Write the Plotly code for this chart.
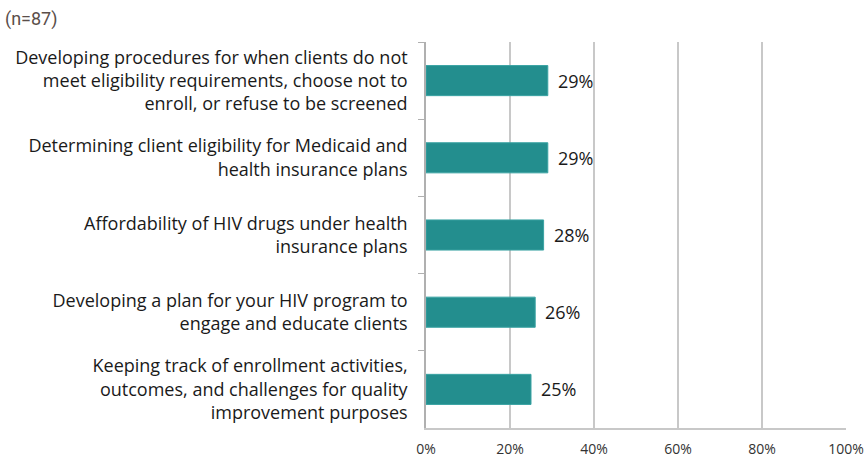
import plotly.graph_objects as go

categories = [
    "Developing procedures for when clients do not<br>meet eligibility requirements, choose not to<br>enroll, or refuse to be screened",
    "Determining client eligibility for Medicaid and<br>health insurance plans",
    "Affordability of HIV drugs under health<br>insurance plans",
    "Developing a plan for your HIV program to<br>engage and educate clients",
    "Keeping track of enrollment activities,<br>outcomes, and challenges for quality<br>improvement purposes",
]
values = [29, 29, 28, 26, 25]
x_ticks = [0, 20, 40, 60, 80, 100]
x_tick_labels = ["0%", "20%", "40%", "60%", "80%", "100%"]

fig = go.Figure(go.Bar(
    y=categories, x=values, orientation="h",
    marker=dict(color="#238e8e", line=dict(color="#3aa3a3", width=1)),
    width=0.39,
))

annotations = [dict(x=v, y=c, xref="x", yref="y", text=f"{v}%", showarrow=False,
                    xanchor="left", xshift=8,
                    font=dict(family="Open Sans", size=18, color="#1a1a1a"))
               for c, v in zip(categories, values)]
annotations.append(dict(text="(n=87)", x=0, y=1, xref="paper", yref="paper",
                        xshift=-426 + 3, yshift=42 - 32, xanchor="left", yanchor="bottom",
                        showarrow=False, font=dict(family="Roboto", size=18, color="#5a4e4a")))

fig.update_layout(
    width=865, height=458,
    margin=dict(l=426, r=19, t=42, b=30),
    plot_bgcolor="white", paper_bgcolor="white",
    showlegend=False,
    font=dict(family="Open Sans", color="#1a1a1a"),
    xaxis=dict(range=[0, 100], tickvals=x_ticks, ticktext=x_tick_labels,
               showgrid=True, gridcolor="#c8c8c8", gridwidth=1.5,
               showline=True, linecolor="#c8c8c8", linewidth=1.5,
               zeroline=False, ticks="", tickfont=dict(size=14, color="#333333"),
               ticklabelstandoff=7, automargin=False, fixedrange=True),
    yaxis=dict(autorange="reversed", showline=True, linecolor="#b0b0b0", linewidth=1.5,
               ticks="outside", tickson="boundaries", ticklen=6, tickcolor="#b0b0b0",
               tickfont=dict(size=18, color="#1a1a1a"), ticklabelstandoff=13,
               showgrid=False, automargin=False),
    annotations=annotations,
)

fig.write_html("out.html")
